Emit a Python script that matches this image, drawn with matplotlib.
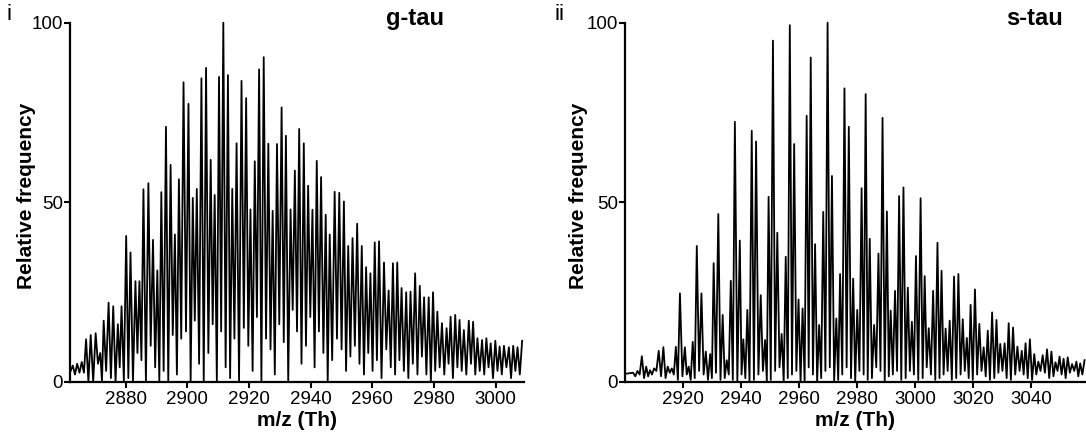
import numpy as np
import matplotlib
matplotlib.use('Agg')
from matplotlib import pyplot as plt

plt.rcParams['font.family'] = ['Liberation Sans', 'DejaVu Sans']

# ---- g-tau spectrum (peak apex m/z, apex height, valley height between apexes)
g_start = [2862.2, 3.0]
g_peak_mz = [2862.9, 2864.3, 2865.8,
             2867.2, 2868.7, 2870.3, 2871.8, 2872.9, 2874.5, 2876.0, 2877.5, 2878.7, 2880.2,
             2881.6, 2883.2, 2884.5, 2885.8, 2887.4, 2888.9, 2890.3, 2891.6, 2893.1, 2894.6,
             2896.0, 2897.3, 2898.8, 2900.4, 2901.8, 2903.1, 2904.6, 2906.1, 2907.6, 2908.9,
             2910.3, 2911.7, 2913.2, 2914.6, 2916.0, 2917.6, 2919.1, 2920.5, 2921.9, 2923.3,
             2924.8, 2926.3, 2927.7, 2929.1, 2930.6, 2932.0, 2933.5, 2934.9, 2936.3, 2937.8,
             2939.2, 2940.6, 2942.0, 2943.4, 2944.9, 2946.2, 2947.8, 2949.3, 2950.8, 2952.2,
             2953.6, 2955.1, 2956.6, 2958.0, 2959.4, 2960.8, 2962.2, 2963.8, 2965.3, 2966.7,
             2968.1, 2969.5, 2971.0, 2972.4, 2973.9, 2975.4, 2976.8, 2978.3, 2979.7, 2981.1,
             2982.6, 2984.1, 2985.4, 2986.9, 2988.3, 2989.7, 2991.3, 2992.7, 2994.1, 2995.6,
             2997.0, 2998.4, 2999.9, 3001.3, 3002.7, 3004.3, 3005.7, 3007.1, 3008.6]
g_peak_int = [4.5, 5.0, 5.5,
              11.8, 13.0, 13.5, 8.0, 17.0, 22.0, 21.0, 16.0, 21.0, 40.6,
              36.0, 28.0, 28.0, 53.6, 55.3, 39.5, 31.0, 52.8, 71.0, 60.4,
              41.0, 56.4, 83.4, 77.4, 51.2, 53.7, 84.5, 87.4, 61.8, 52.0,
              84.9, 100.0, 85.4, 53.7, 66.4, 83.8, 79.0, 48.0, 61.4, 87.0,
              90.4, 66.3, 47.6, 66.2, 76.4, 68.5, 48.0, 58.8, 70.4, 66.4,
              54.6, 47.9, 61.5, 57.0, 46.5, 41.0, 52.9, 52.6, 50.2, 37.8,
              40.0, 44.0, 37.8, 31.9, 30.2, 38.8, 39.1, 33.2, 25.4, 33.0,
              33.2, 26.1, 24.9, 25.1, 30.2, 26.7, 23.5, 23.5, 24.9, 19.5,
              16.3, 14.9, 18.1, 18.6, 17.2, 14.4, 17.0, 16.7, 12.1, 11.6,
              12.1, 10.7, 11.4, 9.8, 10.0, 9.6, 10.0, 9.6, 11.4]
g_valley_int = [2.0, 2.5, 2.5,
                0, 0, 5, 0, 3, 1, 0, 4, 0,
                1, 0, 8, 6, 0, 10, 4, 0, 3, 0,
                13, 2, 12, 14, 0, 17, 5, 0, 8, 16,
                0, 14, 4, 1, 12, 0, 15, 10, 3, 18,
                0, 12, 9, 2, 16, 11, 0, 20, 14, 5,
                10, 18, 4, 14, 8, 0, 6, 12, 9, 3,
                7, 10, 5, 2, 8, 3, 6, 1, 9, 4,
                2, 6, 3, 1, 5, 2, 7, 2, 0, 3,
                4, 2, 5, 1, 4, 3, 2, 5, 2, 3,
                2, 4, 1, 3, 2, 4, 1, 3, 2]

# ---- s-tau spectrum
s_start = [2900.3, 2.2]
s_peak_mz = [2903.0, 2904.5, 2906.0, 2907.5, 2908.8, 2910.2, 2911.8, 2913.4, 2914.9, 2916.3,
             2917.7, 2919.1, 2920.8, 2922.1, 2923.5, 2924.9, 2926.5, 2928.0, 2929.5, 2930.7,
             2932.3, 2933.8, 2935.2, 2936.6, 2938.0, 2939.7, 2940.9, 2942.3, 2943.8, 2945.3,
             2946.9, 2948.4, 2949.6, 2951.1, 2952.6, 2954.1, 2955.5, 2956.9, 2958.4, 2959.9,
             2961.3, 2962.7, 2964.1, 2965.6, 2967.0, 2968.4, 2969.9, 2971.4, 2972.9, 2974.2,
             2975.7, 2977.2, 2978.7, 2980.1, 2981.6, 2983.0, 2984.4, 2985.9, 2987.4, 2988.8,
             2990.3, 2991.6, 2993.1, 2994.5, 2996.0, 2997.5, 2998.9, 3000.3, 3001.9, 3003.3,
             3004.7, 3006.2, 3007.7, 3009.1, 3010.5, 3011.9, 3013.4, 3014.9, 3016.4, 3017.8,
             3019.1, 3020.6, 3022.1, 3023.6, 3025.0, 3026.5, 3028.0, 3029.3, 3030.8, 3032.2,
             3033.7, 3035.2, 3036.7, 3038.0, 3039.5, 3041.0, 3042.4, 3043.9, 3045.4, 3046.9,
             3048.3, 3049.7, 3051.1, 3052.5, 3054.0, 3055.5, 3056.8, 3058.3]
s_peak_int = [2.5, 3.0, 7.1, 4.2, 3.2, 3.7, 8.6, 9.6, 4.2, 3.7,
              9.7, 24.6, 9.6, 4.2, 11.1, 37.8, 24.6, 8.4, 7.7, 33.0,
              46.7, 18.6, 6.0, 28.1, 72.4, 39.3, 11.8, 20.0, 69.9, 66.9,
              24.1, 11.6, 51.5, 95.0, 41.5, 13.3, 34.8, 99.3, 66.2, 22.9,
              20.4, 74.1, 90.3, 38.3, 15.8, 47.3, 100.0, 57.3, 17.6, 30.0,
              81.7, 71.0, 28.7, 20.0, 53.9, 80.1, 39.8, 15.8, 35.7, 73.5,
              47.4, 19.8, 25.3, 51.7, 54.1, 26.2, 16.7, 35.0, 51.1, 29.4,
              14.9, 25.3, 38.7, 30.9, 14.8, 17.0, 29.3, 30.0, 17.4, 12.2,
              21.4, 25.7, 16.1, 9.6, 14.2, 19.3, 17.2, 10.5, 10.7, 16.3,
              15.1, 9.8, 8.6, 10.7, 11.8, 7.7, 5.6, 7.4, 9.0, 8.4,
              5.4, 7.0, 6.4, 6.8, 4.9, 5.6, 5.1, 6.0]
s_valley_int = [1.5, 2, 1, 1.5, 2, 3, 1.5, 1, 2.5, 2,
                0.5, 1.5, 2, 0.5, 1, 3, 2, 0.5, 1, 2.5,
                0.5, 1, 2, 0.5, 0,
                2, 1, 0, 0.5, 2, 3, 0, 0.5, 3, 4,
                0, 1, 2, 3, 0, 0, 4, 2, 0, 1,
                3, 4, 0, 0.5, 2, 4, 1, 0, 3, 2,
                0.5, 1, 4, 3, 0, 1.5, 2, 3, 0.5, 1,
                3, 2, 0.5, 1, 4, 2, 0.5,
                1, 2, 3, 0.5, 1, 2, 3, 1, 0.5, 2,
                3, 1.5, 0.5, 1, 2.5, 3, 1, 0.5, 2, 3,
                2, 1, 0.5, 2, 3, 2.5, 1, 1.5, 3, 2,
                1, 2.5, 3, 1.5, 2]


def build_trace(start, peak_mz, peak_int, valley_int):
    # polyline: start -> apex -> valley -> apex ...
    mz = np.asarray(peak_mz)
    valley_mz = (mz[:-1] + mz[1:]) / 2
    xs = [start[0]]
    ys = [start[1]]
    for i in range(len(mz)):
        xs.append(mz[i])
        ys.append(peak_int[i])
        if i < len(valley_mz):
            xs.append(valley_mz[i])
            ys.append(valley_int[i])
    return np.array(xs), np.array(ys)


def style_axis(ax, xlim, xticks, ylab_x):
    ax.set_xlim(*xlim)
    ax.set_ylim(0, 100)
    ax.set_xticks(xticks)
    ax.set_yticks([0, 50, 100])
    ax.spines['top'].set_visible(False)
    ax.spines['right'].set_visible(False)
    for s in ['left', 'bottom']:
        ax.spines[s].set_linewidth(1.6)
    ax.tick_params(direction='out', length=4, width=1.5, labelsize=13.5, pad=3)
    ax.tick_params(axis='y', pad=1)
    ax.set_xlabel('m/z (Th)', fontsize=15, fontweight='bold', labelpad=2)
    ax.set_ylabel('Relative frequency', fontsize=15, fontweight='bold')
    ax.yaxis.set_label_coords(ylab_x, 0.517)


fig = plt.figure(figsize=(10.86, 4.44), dpi=100)
ax1 = fig.add_axes([0.0645, 0.1403, 0.418, 0.8086])
ax2 = fig.add_axes([0.5755, 0.1403, 0.4245, 0.8086])

gx, gy = build_trace(g_start, g_peak_mz, g_peak_int, g_valley_int)
sx, sy = build_trace(s_start, s_peak_mz, s_peak_int, s_valley_int)

ax1.plot(gx, gy, color='black', lw=1.3, clip_on=False)
ax2.plot(sx, sy, color='black', lw=1.3, clip_on=False)

style_axis(ax1, (2862, 3009.2), [2880, 2900, 2920, 2940, 2960, 2980, 3000], -0.074)
style_axis(ax2, (2900.2, 3058.8), [2920, 2940, 2960, 2980, 3000, 3020, 3040], -0.080)

fig.text(0.382, 0.985, 'g-tau', ha='center', va='top', fontsize=17, fontweight='bold')
fig.text(0.953, 0.985, 's-tau', ha='center', va='top', fontsize=17, fontweight='bold')
fig.text(0.006, 0.99, 'i', ha='left', va='top', fontsize=16)
fig.text(0.511, 0.99, 'ii', ha='left', va='top', fontsize=16)

fig.savefig('out.png', dpi=100)
